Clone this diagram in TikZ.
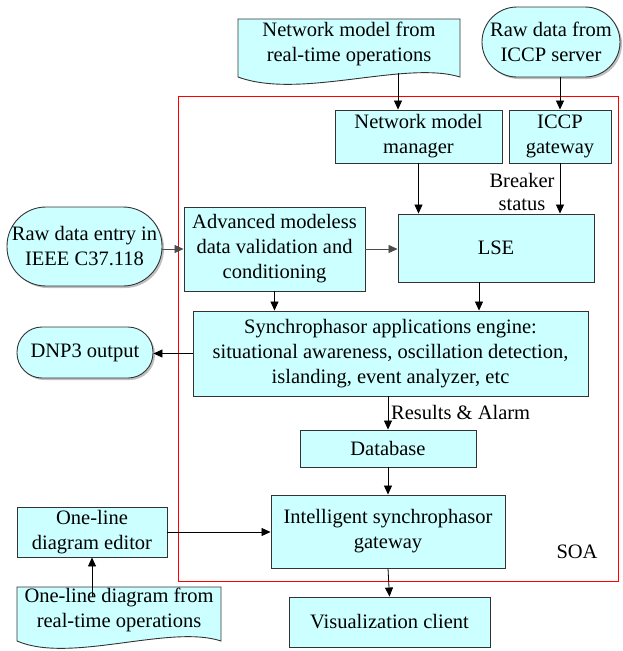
\documentclass[tikz,border=0pt]{standalone}
\usepackage{fontspec}
\setmainfont{Liberation Serif}
\usetikzlibrary{arrows.meta,shadows}
\definecolor{boxfill}{HTML}{CCFFFF}
\definecolor{boxline}{HTML}{333333}
\begin{document}
\begin{tikzpicture}[x=1pt,y=-1pt,
  every node/.style={font=\fontsize{20.5}{25}\selectfont, align=center, inner sep=0pt},
  box/.style={draw=boxline, line width=0.9pt, fill=boxfill},
  term/.style={draw=boxline, line width=0.9pt, fill=boxfill, rounded corners=#1,
    drop shadow={shadow xshift=2pt, shadow yshift=-2pt, fill=black, opacity=0.25}},
  docshape/.style={draw=boxline, line width=0.9pt, fill=boxfill},
  flow/.style={line width=0.8pt, draw=black, -{Triangle[length=9pt,width=8pt]}},
  softflow/.style={flow, draw=black!70, -{Triangle[length=9pt,width=8pt,fill=black!70]}},
  lbl/.style={font=\fontsize{20.5}{23}\selectfont}]
\useasboundingbox (0,0) rectangle (623,651);

% service-oriented architecture frame
\node[draw=red, line width=0.8pt, minimum width=440pt, minimum height=485pt] (soa) at (398,338.5) {};

% document-shaped inputs
\path[docshape] (238,19) -- (460,19) -- (460,77) .. controls (405,60) and (300,100) .. (238,77) -- cycle;
\node (nmdoc) at (349,44) {Network model from\\real-time operations};
\path[docshape] (17,587) -- (221,587) -- (221,641) .. controls (170,624) and (70,664) .. (17,641) -- cycle;
\node (oldoc) at (119,610) {One-line diagram from\\real-time operations};

% terminal (stadium) shapes
\node[term=35pt, minimum width=138pt, minimum height=70pt] (iccpsrv) at (551,42) {Raw data from\\ICCP server};
\node[term=39pt, minimum width=155pt, minimum height=79pt] (rawin) at (84.5,246.5) {Raw data entry in\\IEEE C37.118};
\node[term=25pt, minimum width=136pt, minimum height=51pt] (dnp) at (85,352.5) {DNP3 output};

% process boxes
\node[box, minimum width=167pt, minimum height=53pt] (nmm) at (418.5,136.5) {Network model\\manager};
\node[box, minimum width=102pt, minimum height=53pt] (iccpgw) at (560,136.5) {ICCP\\gateway};
\node[box, minimum width=196pt, minimum height=68pt] (lse) at (496,248) {LSE};
\node[box, minimum width=181pt, minimum height=84pt] (adv) at (274.5,249) {Advanced modeless\\data validation and\\conditioning};
\node[box, minimum width=395pt, minimum height=85pt] (sae) at (390.5,353.5) {Synchrophasor applications engine:\\situational awareness, oscillation detection,\\islanding, event analyzer, etc};
\node[box, minimum width=176pt, minimum height=37pt] (db) at (388,448.5) {Database};
\node[box, minimum width=234pt, minimum height=73pt] (isg) at (388,531.5) {Intelligent synchrophasor\\gateway};
\node[box, minimum width=150pt, minimum height=50pt] (editor) at (92,532) {One-line\\diagram editor};
\node[box, minimum width=201pt, minimum height=50pt] (vis) at (389.5,622) {Visualization client};

% free labels
\node[lbl] (brk) at (522,192) {Breaker\\status};
\node[lbl, anchor=west] (res) at (391,412) {Results \& Alarm};
\node[lbl] (soalbl) at (577,552) {SOA};

% connector end points
\coordinate (nmout) at (398,73);
\coordinate (lseout) at (479,282);
\coordinate (olout) at (92,597);

% connectors
\draw[flow] (nmout) -- (nmout |- nmm.north);
\draw[flow] (iccpgw.north |- iccpsrv.south) -- (iccpgw.north);
\draw[flow] (nmm.south) -- (nmm.south |- lse.north);
\draw[flow] (iccpgw.south) -- (iccpgw.south |- lse.north);
\draw[softflow] (rawin.east |- adv.west) -- (adv.west);
\draw[softflow] (adv.east) -- (adv.east -| lse.west);
\draw[flow] (adv.south) -- (adv.south |- sae.north);
\draw[flow] (lseout) -- (lseout |- sae.north);
\draw[flow] (sae.west) -- (sae.west -| dnp.east);
\draw[flow] (db.north |- sae.south) -- (db.north);
\draw[flow] (db.south) -- (isg.north);
\draw[flow] (editor.east) -- (editor.east -| isg.west);
\draw[flow] (isg.south) -- (vis.north);
\draw[flow] (olout) -- (olout |- editor.south);
\end{tikzpicture}
\end{document}
